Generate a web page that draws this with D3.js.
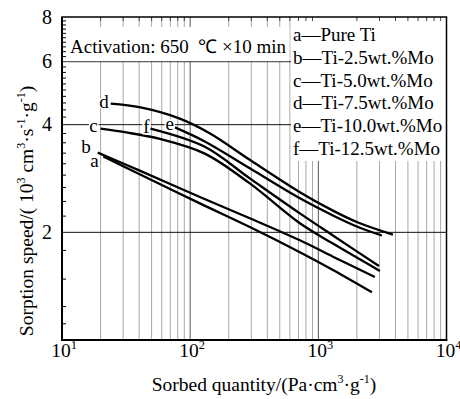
<!DOCTYPE html>
<html><head><meta charset="utf-8">
<script src="https://cdn.jsdelivr.net/npm/d3@7"></script>
<style>
body{margin:0;background:#fff;}
svg{display:block;font-family:"Liberation Serif","Times New Roman",serif;}
</style></head>
<body><svg id="chart" width="460" height="399"></svg>
<script>
// ---- data ----
const seriesNames = ["a","b","c","d","e","f"];
const legendLabels = ["a\u2014Pure Ti","b\u2014Ti-2.5wt.%Mo","c\u2014Ti-5.0wt.%Mo","d\u2014Ti-7.5wt.%Mo","e\u2014Ti-10.0wt.%Mo","f\u2014Ti-12.5wt.%Mo"];
const aX = [21, 40, 119, 292, 718, 1300, 2620];
const aY = [3.26, 2.91, 2.41, 2.07, 1.76, 1.57, 1.36];
const bX = [19, 40, 119, 292, 718, 1300, 2760];
const bY = [3.34, 2.98, 2.51, 2.19, 1.90, 1.71, 1.50];
const cX = [20, 31, 58, 130, 292, 718, 1300, 3020];
const cY = [3.90, 3.81, 3.65, 3.32, 2.74, 2.12, 1.86, 1.56];
const dX = [24, 41, 83, 143, 292, 718, 1300, 2040, 3820];
const dY = [4.58, 4.47, 4.16, 3.78, 3.19, 2.59, 2.30, 2.13, 1.97];
const eX = [76, 130, 292, 718, 1300, 2040, 3130];
const eY = [3.93, 3.59, 3.02, 2.49, 2.23, 2.07, 1.96];
const fX = [49, 130, 292, 718, 1300, 2970];
const fY = [3.90, 3.47, 2.83, 2.26, 1.96, 1.61];
const xMajorTicks = [10, 100, 1000, 10000];
const xTickExp = ["1","2","3","4"];
const xMinorTicks = [20,30,40,50,60,70,80,90,200,300,400,500,600,700,800,900,2000,3000,4000,5000,6000,7000,8000,9000];
const yMajorTicks = [2, 4, 6, 8];
const yGridTicks = [2, 4, 6];
const yMinorTicks = [1.11,1.24,1.48,1.78,2.22,2.44,2.67,2.89,3.11,3.33,3.56,3.78,
  4.2,4.4,4.6,4.8,5.0,5.2,5.4,5.6,5.8,6.2,6.4,6.6,6.8,7.0,7.2,7.4,7.6,7.8];
const annotation = "Activation: 650\u00a0\u00a0\u2103\u00a0\u00d710 min";

const allX = [aX,bX,cX,dX,eX,fX];
const allY = [aY,bY,cY,dY,eY,fY];

// ---- layout ----
const L = 62, R = 446.5, T = 17, B = 340;
const svg = d3.select("#chart");
const x = d3.scaleLog().domain([10, 10000]).range([L, R]);
const y = d3.scaleLog().domain([1, 8]).range([B, T]);

// vertical grid
svg.append("g").selectAll("line").data(xMinorTicks).join("line")
  .attr("x1", d=>x(d)).attr("x2", d=>x(d)).attr("y1", T).attr("y2", B)
  .attr("stroke", "#a8a8a8").attr("stroke-width", 1);
svg.append("g").selectAll("line").data([100,1000]).join("line")
  .attr("x1", d=>x(d)).attr("x2", d=>x(d)).attr("y1", T).attr("y2", B)
  .attr("stroke", "#555").attr("stroke-width", 1);
// horizontal grid
svg.append("g").selectAll("line").data(yGridTicks).join("line")
  .attr("x1", L).attr("x2", R).attr("y1", d=>y(d)).attr("y2", d=>y(d))
  .attr("stroke", "#111").attr("stroke-width", 1);

// white boxes (annotation & legend)
const legX = x(600) + 1;
svg.append("rect").attr("x", L+1).attr("y", 27).attr("width", x(600)-L-1.5).attr("height", y(6)-27-0.5).attr("fill","#fff");
svg.append("rect").attr("x", legX).attr("y", T+1).attr("width", R-legX-0.5).attr("height", 143).attr("fill","#fff");

// minor ticks: left (inward), top (inward)
svg.append("g").selectAll("line").data(yMinorTicks).join("line")
  .attr("x1", L).attr("x2", L+4).attr("y1", d=>y(d)).attr("y2", d=>y(d))
  .attr("stroke", "#000").attr("stroke-width", 1);
svg.append("g").selectAll("line").data(xMinorTicks).join("line")
  .attr("x1", d=>x(d)).attr("x2", d=>x(d)).attr("y1", T).attr("y2", T+4)
  .attr("stroke", "#444").attr("stroke-width", 1);

// frame
svg.append("rect").attr("x", L).attr("y", T).attr("width", R-L).attr("height", B-T)
  .attr("fill","none").attr("stroke","#000").attr("stroke-width",1.5);
svg.append("line").attr("x1",L).attr("x2",L).attr("y1",T).attr("y2",B+1).attr("stroke","#000").attr("stroke-width",2);
svg.append("line").attr("x1",L-1).attr("x2",R+0.75).attr("y1",B).attr("y2",B).attr("stroke","#000").attr("stroke-width",2);

// curves
const line = d3.line().x(p=>x(p[0])).y(p=>y(p[1])).curve(d3.curveCatmullRom.alpha(0.5));
const curveLabelOff = {a:[-4.5,10.5], b:[-7,0.5], c:[-3,3], d:[-2,4.5], e:[-1,3], f:[-1,4]};
allX.forEach((xs,i)=>{
  const pts = xs.map((v,j)=>[v, allY[i][j]]);
  svg.append("path").attr("d", line(pts)).attr("fill","none")
    .attr("stroke","#000").attr("stroke-width",2.3).attr("stroke-linecap","butt");
  const name = seriesNames[i];
  const off = curveLabelOff[name];
  svg.append("text").attr("x", x(xs[0])+off[0]).attr("y", y(allY[i][0])+off[1])
    .attr("text-anchor","end").attr("font-size",19)
    .attr("stroke","#fff").attr("stroke-width",3).attr("paint-order","stroke")
    .text(name);
});

// annotation
svg.append("text").attr("x", 70).attr("y", 53).attr("font-size", 19).text(annotation);

// legend
svg.append("g").selectAll("text").data(legendLabels).join("text")
  .attr("x", 293).attr("y", (d,i)=>41 + i*22.8).attr("font-size", 19).text(d=>d);

// y tick labels
svg.append("g").selectAll("text").data(yMajorTicks).join("text")
  .attr("x", 52).attr("y", d=>y(d)+6.5).attr("text-anchor","end").attr("font-size",20).text(d=>d);

// x tick labels
const xt = svg.append("g").selectAll("text").data(xMajorTicks).join("text")
  .attr("x", d=>x(d)+2).attr("y", 357).attr("text-anchor","middle").attr("font-size",19.5);
xt.append("tspan").text("10");
xt.append("tspan").attr("font-size",12.5).attr("dy",-8).text((d,i)=>xTickExp[i]);

// axis titles
const xtitle = svg.append("text").attr("x", 264).attr("y", 391).attr("text-anchor","middle").attr("font-size",19.5);
xtitle.append("tspan").text("Sorbed quantity/(Pa\u00b7cm");
xtitle.append("tspan").attr("font-size",12).attr("dy",-8).text("3");
xtitle.append("tspan").attr("dy",8).text("\u00b7g");
xtitle.append("tspan").attr("font-size",12).attr("dy",-8).text("-1");
xtitle.append("tspan").attr("dy",8).text(")");

const ytitle = svg.append("text").attr("transform","translate(33,211) rotate(-90)").attr("text-anchor","middle").attr("font-size",19.5);
ytitle.append("tspan").text("Sorption speed/(\u00a010");
ytitle.append("tspan").attr("font-size",12).attr("dy",-8).text("3");
ytitle.append("tspan").attr("dy",8).text(" cm");
ytitle.append("tspan").attr("font-size",12).attr("dy",-8).text("3");
ytitle.append("tspan").attr("dy",8).text("\u00b7s");
ytitle.append("tspan").attr("font-size",12).attr("dy",-8).text("-1");
ytitle.append("tspan").attr("dy",8).text("\u00b7g");
ytitle.append("tspan").attr("font-size",12).attr("dy",-8).text("-1");
ytitle.append("tspan").attr("dy",8).text(")");
</script></body></html>
